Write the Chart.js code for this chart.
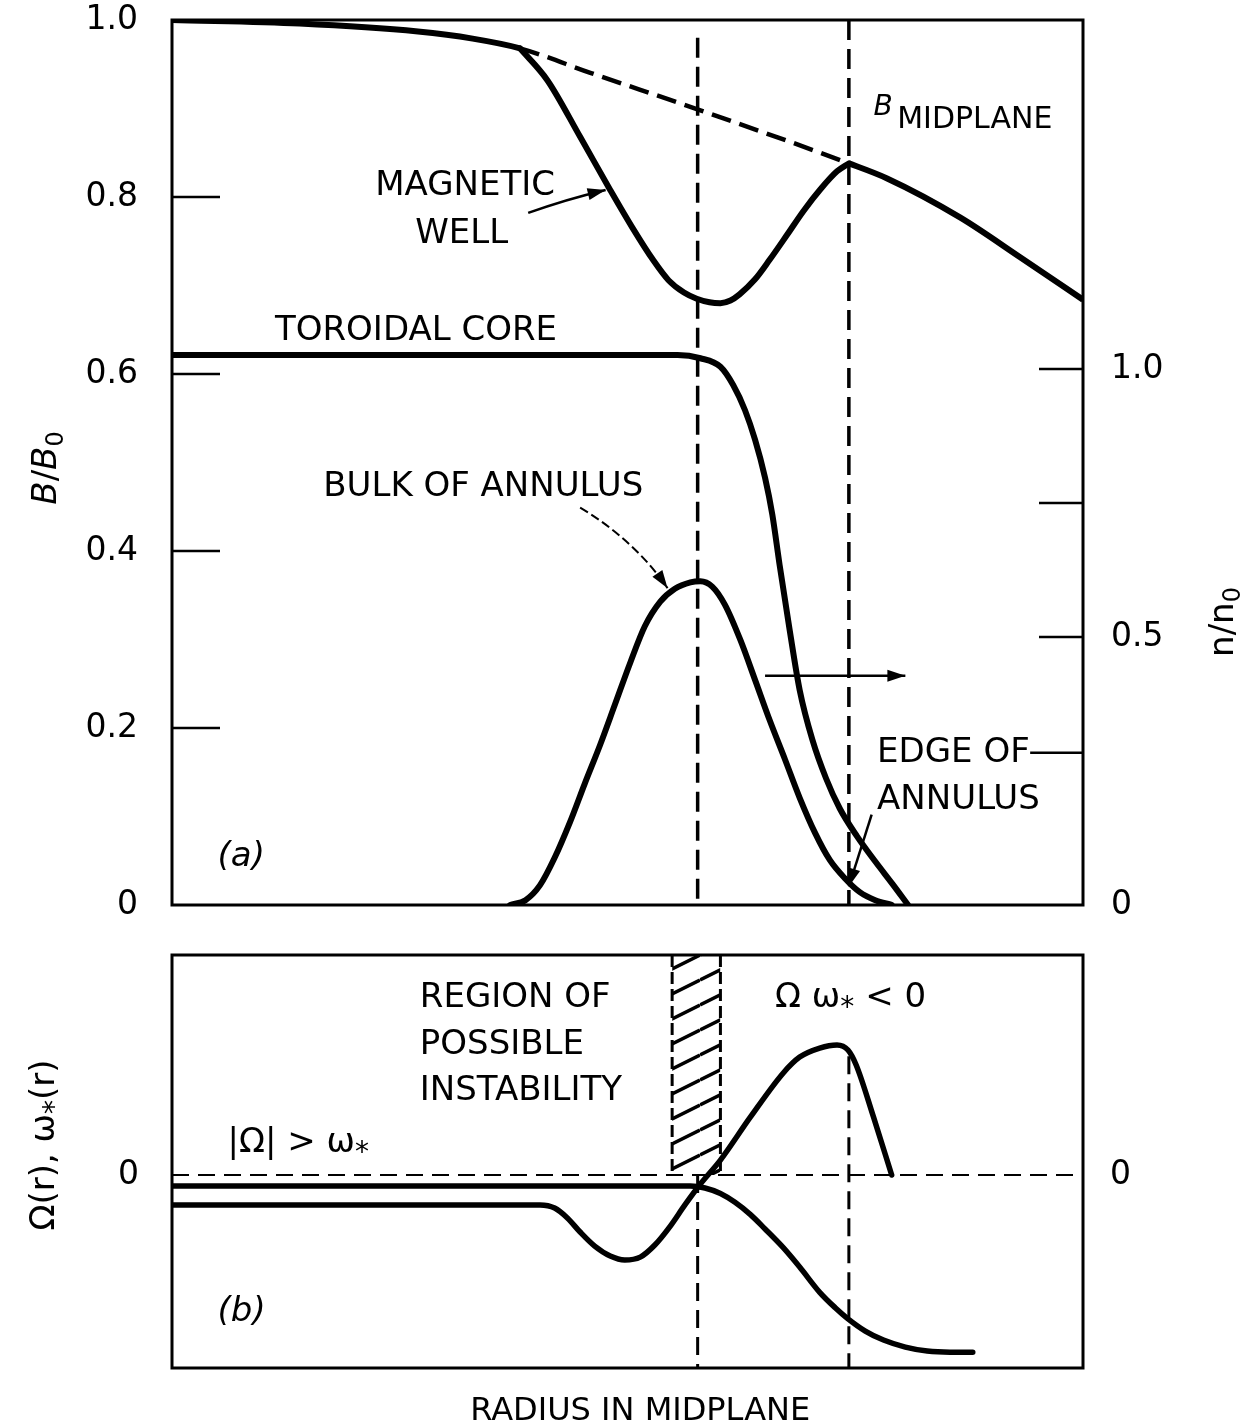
<!DOCTYPE html>
<html lang="en">
<head>
<meta charset="UTF-8">
<meta name="viewport" content="width=device-width, initial-scale=1.0">
<title>Magnetic well, annulus density and frequencies</title>
<script src="https://cdn.jsdelivr.net/npm/chart.js"></script>
<style>
  body { margin: 0; background: #fff; }
  .page { position: relative; width: 1241px; height: 1428px; background: #fff; }
  canvas { position: absolute; left: 0; }
  #profiles { top: 0; }
  #frequencies { top: 930px; }
</style>
</head>
<body>
<div class="page">
  <canvas id="profiles" width="1241" height="940"></canvas>
  <canvas id="frequencies" width="1241" height="498"></canvas>
</div>
<script>
// radius in the midplane: 0 = left edge of the frame, 1 = right edge

// (a) B/B0 in the midplane, dashed over the range of the well
var midplaneR = [0, 0.14, 0.27, 0.33, 0.382, 0.46, 0.58, 0.743, 0.785, 0.865, 0.931, 1.0];
var midplaneB = [1.0, 0.996, 0.987, 0.979, 0.968, 0.94, 0.898, 0.838, 0.821, 0.777, 0.732, 0.684];

// (a) magnetic well
var wellR = [0.382, 0.412, 0.448, 0.481, 0.505, 0.528, 0.545, 0.562, 0.576, 0.59, 0.602, 0.613, 0.623, 0.64, 0.656, 0.675, 0.693, 0.712, 0.73, 0.743];
var wellB = [0.968, 0.932, 0.868, 0.808, 0.766, 0.729, 0.706, 0.692, 0.685, 0.681, 0.680, 0.683, 0.69, 0.707, 0.729, 0.757, 0.784, 0.809, 0.829, 0.838];

// (a) n/n0 : toroidal core and bulk of annulus
var coreR = [0, 0.3, 0.555, 0.58, 0.602, 0.616, 0.629, 0.64, 0.651, 0.659, 0.667, 0.678, 0.689, 0.703, 0.718, 0.733, 0.752, 0.772, 0.791, 0.808];
var coreN = [1.026, 1.026, 1.026, 1.02, 1.004, 0.97, 0.923, 0.868, 0.797, 0.728, 0.634, 0.513, 0.401, 0.308, 0.236, 0.18, 0.128, 0.081, 0.039, 0];
var bulkR = [0.371, 0.388, 0.404, 0.42, 0.437, 0.453, 0.47, 0.486, 0.503, 0.519, 0.536, 0.552, 0.569, 0.58, 0.593, 0.607, 0.624, 0.64, 0.656, 0.673, 0.689, 0.706, 0.722, 0.739, 0.755, 0.772, 0.79];
var bulkN = [0, 0.009, 0.037, 0.088, 0.155, 0.226, 0.299, 0.373, 0.452, 0.52, 0.566, 0.59, 0.602, 0.604, 0.594, 0.56, 0.494, 0.42, 0.345, 0.271, 0.2, 0.134, 0.084, 0.049, 0.024, 0.009, 0];

// (b) Omega(r) and omega*(r), arbitrary units
var omegaR = [0, 0.404, 0.42, 0.434, 0.448, 0.464, 0.481, 0.497, 0.514, 0.53, 0.547, 0.563, 0.58, 0.602, 0.635, 0.671, 0.689, 0.711, 0.73, 0.742, 0.751, 0.77, 0.79];
var omegaV = [-0.136, -0.136, -0.15, -0.195, -0.259, -0.323, -0.368, -0.386, -0.373, -0.318, -0.232, -0.136, -0.041, 0.068, 0.264, 0.464, 0.536, 0.577, 0.591, 0.568, 0.5, 0.264, 0];
var wstarR = [0, 0.569, 0.585, 0.602, 0.618, 0.635, 0.651, 0.671, 0.689, 0.711, 0.728, 0.741, 0.761, 0.781, 0.805, 0.829, 0.854, 0.879];
var wstarV = [-0.05, -0.05, -0.059, -0.084, -0.124, -0.18, -0.245, -0.33, -0.418, -0.533, -0.603, -0.65, -0.709, -0.75, -0.782, -0.8, -0.805, -0.805];

// dashed markers, region of possible instability
var markerR = [0.577, 0.743];
var markerTopB = [0.98, 1.0];
var markerTopV = [0, 0.54];
var bandR = [0.549, 0.602];

// axes
var bTicks = [0, 0.2, 0.4, 0.6, 0.8, 1.0];
var bTickLabels = ['0', '0.2', '0.4', '0.6', '0.8', '1.0'];
var nTicks = [0, 0.25, 0.5, 0.75, 1.0];
var nTickLabels = ['0', '', '0.5', '', '1.0'];
var nMax = 1.651;
var vTicks = [0];
var vTickLabels = ['0'];
var vMin = -0.877, vMax = 1.0;

var FONT = "'DejaVu Sans', sans-serif";
var LBL = '34px ' + FONT;
Chart.defaults.font.family = FONT;
Chart.defaults.color = '#000';

function pts(xs, ys) {
    return xs.map(function (x, i) { return { x: x, y: ys[i] }; });
}

function curve(data, axis, width, extra) {
    return Object.assign({
        data: data, yAxisID: axis, borderColor: '#000', borderWidth: width,
        pointRadius: 0, fill: false, cubicInterpolationMode: 'monotone',
        borderCapStyle: 'round', borderJoinStyle: 'round'
    }, extra || {});
}

function dashed(data, axis, dash, width) {
    return {
        data: data, yAxisID: axis, borderColor: '#000', borderWidth: width,
        borderDash: dash, pointRadius: 0, fill: false, tension: 0
    };
}

// tick padding goes through tickLength (ticks.padding would also pad the top/bottom of the area)
function yAxis(pos, min, max, values, labels, width, gap) {
    return {
        position: pos, min: min, max: max,
        afterBuildTicks: function (s) { s.ticks = values.map(function (v) { return { value: v }; }); },
        afterFit: function (s) { s.width = width; },
        grid: { display: false, drawTicks: true, tickLength: gap },
        border: { display: false },
        ticks: {
            autoSkip: false, padding: 0, color: '#000',
            font: { size: 33, lineHeight: 1 },
            callback: function (v, i) { return labels[i]; }
        }
    };
}

function frame(chart) {
    var a = chart.chartArea, ctx = chart.ctx;
    ctx.save();
    ctx.strokeStyle = '#000';
    ctx.lineWidth = 3;
    ctx.strokeRect(a.left, a.top, a.right - a.left, a.bottom - a.top);
    ctx.restore();
}

function inwardTicks(chart, id, values, len) {
    var s = chart.scales[id], a = chart.chartArea, ctx = chart.ctx;
    ctx.save();
    ctx.strokeStyle = '#000';
    ctx.lineWidth = 2.5;
    ctx.beginPath();
    values.forEach(function (v) {
        var y = s.getPixelForValue(v);
        if (s.position === 'left') { ctx.moveTo(a.left, y); ctx.lineTo(a.left + len, y); }
        else { ctx.moveTo(a.right, y); ctx.lineTo(a.right - len, y); }
    });
    ctx.stroke();
    ctx.restore();
}

function text(ctx, s, p, font) {
    ctx.save();
    ctx.font = font;
    ctx.fillStyle = '#000';
    ctx.textAlign = 'left';
    ctx.textBaseline = 'alphabetic';
    ctx.fillText(s, p[0], p[1]);
    ctx.restore();
}

// list: [text, font, dy]; drawn from x,y (centered if center), rotated by rot
function runs(ctx, list, x, y, rot, center) {
    ctx.save();
    ctx.translate(x, y);
    ctx.rotate(rot || 0);
    ctx.fillStyle = '#000';
    ctx.textAlign = 'left';
    ctx.textBaseline = 'alphabetic';
    var w = 0;
    list.forEach(function (r) { ctx.font = r[1]; w += ctx.measureText(r[0]).width; });
    var cx = center ? -w / 2 : 0;
    list.forEach(function (r) {
        ctx.font = r[1];
        ctx.fillText(r[0], cx, r[2] || 0);
        cx += ctx.measureText(r[0]).width;
    });
    ctx.restore();
}

function arrow(ctx, p, dash, width) {
    ctx.save();
    ctx.strokeStyle = '#000';
    ctx.fillStyle = '#000';
    ctx.lineWidth = width;
    ctx.setLineDash(dash || []);
    ctx.beginPath();
    ctx.moveTo(p[0][0], p[0][1]);
    if (p.length === 3) ctx.quadraticCurveTo(p[1][0], p[1][1], p[2][0], p[2][1]);
    else ctx.lineTo(p[1][0], p[1][1]);
    ctx.stroke();
    ctx.setLineDash([]);
    var t = p[p.length - 1], f = p[p.length - 2];
    var ang = Math.atan2(t[1] - f[1], t[0] - f[0]);
    var c = Math.cos(ang), s = Math.sin(ang);
    ctx.beginPath();
    ctx.moveTo(t[0], t[1]);
    ctx.lineTo(t[0] - 18 * c + 6 * s, t[1] - 18 * s - 6 * c);
    ctx.lineTo(t[0] - 18 * c - 6 * s, t[1] - 18 * s + 6 * c);
    ctx.closePath();
    ctx.fill();
    ctx.restore();
}

function hatchPattern() {
    var c = document.createElement('canvas');
    c.width = 50; c.height = 50;
    var g = c.getContext('2d');
    g.strokeStyle = '#000';
    g.lineWidth = 3.5;
    g.beginPath();
    for (var k = 0; k <= 3; k++) {
        g.moveTo(0, 25 * k);
        g.lineTo(50, 25 * k - 25);
    }
    g.stroke();
    return g.createPattern(c, 'repeat');
}

function inWell(c) {
    return c.p0.parsed.x >= wellR[0] - 1e-6 && c.p1.parsed.x <= wellR[wellR.length - 1] + 1e-6;
}

var common = {
    responsive: false,
    animation: false,
    events: [],
    plugins: { legend: { display: false }, tooltip: { enabled: false } }
};

// ---------- panel (a) ----------
var profileDecor = {
    id: 'profileDecor',
    afterDatasetsDraw: function (chart) {
        var ctx = chart.ctx;
        var P = function (x, y) { return [chart.scales.x.getPixelForValue(x), chart.scales.y.getPixelForValue(y)]; };
        frame(chart);
        inwardTicks(chart, 'y', bTicks.slice(1, -1), 48);
        // the 0.25 mark is drawn as the EDGE OF leader below
        inwardTicks(chart, 'n', nTicks.slice(2), 44);

        text(ctx, 'MAGNETIC', P(0.223, 0.802), LBL);
        text(ctx, 'WELL', P(0.267, 0.748), LBL);
        text(ctx, 'TOROIDAL CORE', P(0.113, 0.638), LBL);
        text(ctx, 'BULK OF ANNULUS', P(0.166, 0.462), LBL);
        text(ctx, 'EDGE OF', P(0.774, 0.162), LBL);
        text(ctx, 'ANNULUS', P(0.774, 0.108), LBL);
        text(ctx, '(a)', P(0.05, 0.044), 'italic 34px ' + FONT);
        text(ctx, 'B', P(0.77, 0.893), 'italic 28px ' + FONT);
        text(ctx, 'MIDPLANE', P(0.796, 0.878), '30px ' + FONT);

        arrow(ctx, [P(0.391, 0.782), P(0.431, 0.797), P(0.476, 0.808)], null, 2.5);
        arrow(ctx, [P(0.448, 0.449), P(0.508, 0.412), P(0.544, 0.358)], [9, 4], 2);
        arrow(ctx, [P(0.651, 0.259), P(0.805, 0.259)], null, 2.5);
        arrow(ctx, [P(0.768, 0.102), P(0.743, 0.021)], null, 2.5);

        var l0 = P(0.942, 0.172), l1 = P(1.0, 0.172);
        ctx.save();
        ctx.lineWidth = 2.5;
        ctx.beginPath(); ctx.moveTo(l0[0], l0[1]); ctx.lineTo(l1[0], l1[1]); ctx.stroke();
        ctx.restore();

        runs(ctx, [['B', 'italic 34px ' + FONT], ['/', '34px ' + FONT], ['B', 'italic 34px ' + FONT], ['0', '24px ' + FONT, 7]],
            56, 468, -Math.PI / 2, true);
        runs(ctx, [['n', '34px ' + FONT], ['/', '34px ' + FONT], ['n', '34px ' + FONT], ['0', '24px ' + FONT, 7]],
            1233, 622, -Math.PI / 2, true);
    }
};

new Chart(document.getElementById('profiles'), {
    type: 'line',
    data: {
        datasets: [
            curve(pts(midplaneR, midplaneB), 'y', 6, {
                borderCapStyle: 'butt',
                segment: {
                    borderDash: function (c) { return inWell(c) ? [20, 9] : undefined; },
                    borderWidth: function (c) { return inWell(c) ? 4.5 : undefined; }
                }
            }),
            curve(pts(wellR, wellB), 'y', 6),
            curve(pts(coreR, coreN), 'n', 6),
            curve(pts(bulkR, bulkN), 'n', 6),
            dashed(pts([markerR[0], markerR[0]], [markerTopB[0], 0]), 'y', [20, 9], 3.5),
            dashed(pts([markerR[1], markerR[1]], [markerTopB[1], 0]), 'y', [20, 9], 3.5)
        ]
    },
    options: Object.assign({}, common, {
        layout: { padding: { top: 20, bottom: 35, left: 0, right: 0 } },
        scales: {
            x: { type: 'linear', min: 0, max: 1, display: false },
            y: yAxis('left', 0, 1.0, bTicks, bTickLabels, 172, 34),
            n: yAxis('right', 0, nMax, nTicks, nTickLabels, 158, 28)
        }
    }),
    plugins: [profileDecor]
});

// ---------- panel (b) ----------
var freqDecor = {
    id: 'freqDecor',
    afterDatasetsDraw: function (chart) {
        var ctx = chart.ctx;
        var P = function (x, y) { return [chart.scales.x.getPixelForValue(x), chart.scales.y.getPixelForValue(y)]; };
        frame(chart);

        text(ctx, 'REGION OF', P(0.272, 0.764), LBL);
        text(ctx, 'POSSIBLE', P(0.272, 0.55), LBL);
        text(ctx, 'INSTABILITY', P(0.272, 0.341), LBL);
        text(ctx, '(b)', P(0.05, -0.664), 'italic 34px ' + FONT);

        var p = P(0.662, 0.764);
        runs(ctx, [['Ω ω', '34px ' + FONT], ['*', '28px ' + FONT, 9], [' < 0', '34px ' + FONT]], p[0], p[1], 0, false);
        p = P(0.061, 0.105);
        runs(ctx, [['|Ω| > ω', '34px ' + FONT], ['*', '28px ' + FONT, 9]], p[0], p[1], 0, false);

        p = P(0.514, -1.114);
        runs(ctx, [['RADIUS IN MIDPLANE', '32px ' + FONT]], p[0], p[1], 0, true);

        runs(ctx, [['Ω(r), ω', '34px ' + FONT], ['*', '28px ' + FONT, 9], ['(r)', '34px ' + FONT]],
            54, 215, -Math.PI / 2, true);
    }
};

new Chart(document.getElementById('frequencies'), {
    type: 'line',
    data: {
        datasets: [
            curve(pts(omegaR, omegaV), 'y', 5.5),
            curve(pts(wstarR, wstarV), 'y', 5.5),
            dashed(pts([0, 1], [0, 0]), 'y', [17, 9], 2),
            dashed(pts([markerR[0], markerR[0]], [markerTopV[0], vMin]), 'y', [18, 9], 3),
            dashed(pts([markerR[1], markerR[1]], [markerTopV[1], vMin]), 'y', [18, 9], 3),
            dashed(pts([bandR[0], bandR[0]], [vMax, 0]), 'y', [12, 5], 3),
            dashed(pts([bandR[1], bandR[1]], [vMax, 0]), 'y', [12, 5], 3),
            {
                data: pts(bandR, [vMax, vMax]), yAxisID: 'y', borderColor: 'rgba(0,0,0,0)',
                borderWidth: 1, pointRadius: 0, tension: 0, fill: 'origin',
                backgroundColor: hatchPattern()
            }
        ]
    },
    options: Object.assign({}, common, {
        layout: { padding: { top: 25, bottom: 60, left: 0, right: 0 } },
        scales: {
            x: { type: 'linear', min: 0, max: 1, display: false },
            y: yAxis('left', vMin, vMax, vTicks, vTickLabels, 172, 33),
            y2: yAxis('right', vMin, vMax, vTicks, vTickLabels, 158, 27)
        }
    }),
    plugins: [freqDecor]
});
</script>
</body>
</html>
